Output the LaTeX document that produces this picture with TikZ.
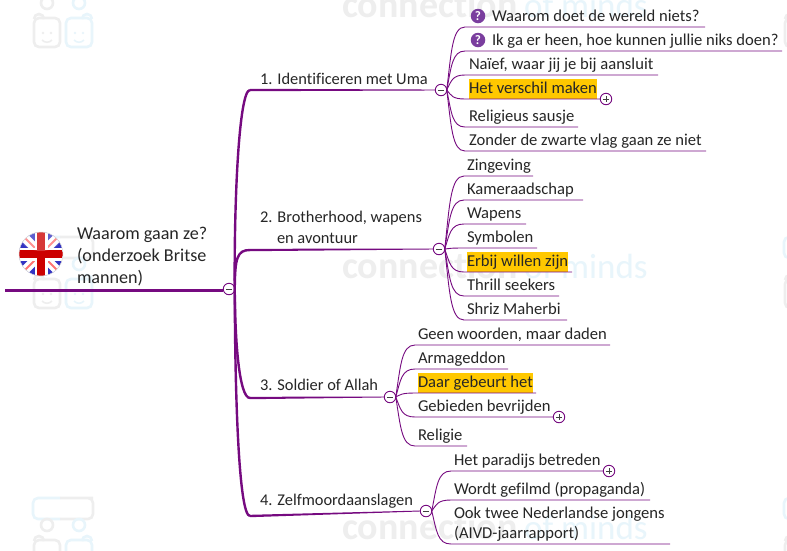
\documentclass[tikz,border=0pt]{standalone}
\usepackage{fontspec}
\setmainfont{Carlito}[RawFeature={-liga;-clig}]
\usetikzlibrary{calc}
\definecolor{branch}{HTML}{760A80}
\definecolor{wmgrey}{HTML}{EEEEEE}
\definecolor{wmblue}{HTML}{E8F5FB}
\definecolor{mark}{HTML}{FFC800}
\definecolor{ask}{HTML}{7A3E9E}
\tikzset{
  x=1pt,y=-1pt,
  every node/.style={font=\fontsize{16.6}{16}\selectfont,text=black!85},
  label/.style={anchor=base west,inner sep=0pt,outer sep=0pt},
  toplabel/.style={label,font=\fontsize{16.4}{16}\selectfont},
  rootlabel/.style={label,font=\fontsize{18.1}{18}\selectfont},
  hl/.style={fill=mark,text height=15pt,text depth=5pt},
  twig/.style={draw=branch,line width=.9pt},
  bough/.style={draw=branch,line width=2.4pt},
  toggle/.style={circle,draw=branch,fill=white,line width=.9pt,minimum size=11.5pt,inner sep=0pt,outer sep=0pt},
  ringg/.style={draw=wmgrey,line width=2.6pt},
  ringb/.style={draw=wmblue,line width=2.6pt},
  boxg/.style={ringg,rounded corners=5pt},
  boxb/.style={ringb,rounded corners=5pt},
  wmword/.style={anchor=base west,inner sep=0pt,font=\fontsize{38}{38}\selectfont\bfseries},
  askmark/.style={circle,fill=ask,minimum size=14.5pt,inner sep=0pt,text=white,font=\fontsize{13}{13}\selectfont\bfseries},
}
% collapse and expand buttons
\newcommand{\minusbtn}[2]{\node[toggle] (#1) at (#2) {};
  \draw[black!75,line width=1pt] ($(#1)+(-2.8,0)$) -- ($(#1)+(2.8,0)$);}
\newcommand{\plusbtn}[2]{\node[toggle] (#1) at (#2) {};
  \draw[black!75,line width=.9pt] ($(#1)+(-2.8,0)$) -- ($(#1)+(2.8,0)$) ($(#1)+(0,-2.8)$) -- ($(#1)+(0,2.8)$);}
% one leaf: [node style] name, parent button, curve end x, underline y, underline end x, text x, text
\newcommand{\leaf}[7][]{%
  \coordinate (#2s) at (#4,#5);
  \coordinate (#2e) at (#6,#5);
  \node[label,#1] (#2) at (#7,#5-5.5) {\leaftext};
  \draw[twig] let \p1=(#3.east),\p2=(#2s) in
    (\p1) .. controls ({\x1+.25*(\x2-\x1)},{\y1+.6*(\y2-\y1)}) and ({\x1+.3*(\x2-\x1)},\y2) .. (\p2) -- (#2e);}
\newcommand{\leaftext}{}
% main branch underline, thick at the trunk and thinning towards its button
\newcommand{\taper}[2]{%
  \fill[branch] ($(#1)+(0,-1.2)$) -- ($(#2.west)+(0,-.45)$) -- ($(#2.west)+(0,.45)$) -- ($(#1)+(0,1.2)$) -- cycle;}
% faint logo tile
\newcommand{\wlogo}[2]{%
  \begin{scope}[shift={(#1,#2)}]
    \draw[boxg] (60,-24) -- (88,-24) -- (93,-24) -- (93,-3) -- (60,-3);
    \draw[boxb] (60,-3) -- (33,-3) -- (33,-24) -- (60,-24);
    \draw[ringg] (47,3) circle (6);
    \draw[ringb] (79,3) circle (6);
    \draw[ringg] (34,19) arc (180:360:5);
    \draw[ringb] (82,19) arc (180:360:5);
    \draw[boxg] (34,18) rectangle (60,47);
    \draw[boxb] (66,18) rectangle (92,47);
    \fill[wmgrey] (43,33) circle (1.4) (51,33) circle (1.4);
    \fill[wmblue] (75,33) circle (1.4) (83,33) circle (1.4);
    \draw[wmgrey,line width=1.6pt] (42,40) .. controls (45,43) and (49,43) .. (52,40);
    \draw[wmblue,line width=1.6pt] (74,40) .. controls (77,43) and (81,43) .. (84,40);
  \end{scope}}
% faint wordmark
\newcommand{\wword}[2]{%
  \node[wmword,text=wmgrey] (wa#1) at (342,#2) {connection};
  \node[wmword,text=wmblue,font=\fontsize{35}{35}\selectfont] (wb#1) at (524,#2) {of minds};}
\begin{document}
\begin{tikzpicture}
\useasboundingbox (0,0) rectangle (787,550);
\fill[white] (0,0) rectangle (787,550);
\wlogo{0}{0}
\wlogo{0}{261}
\wlogo{0}{522}
\wlogo{751}{0}
\wlogo{751}{261}
\wlogo{751}{522}
\wword{top}{17}
\wword{mid}{278}
\wword{low}{539}

% flag
\begin{scope}
  \clip (41,254) circle (22);
  \fill[blue!70!black!80] (19,232) rectangle (63,276);
  \draw[white,line width=9pt] (19,232) -- (63,276) (63,232) -- (19,276);
  \draw[red!55!white,line width=2pt] (19,232) -- (63,276) (63,232) -- (19,276);
  \draw[white,line width=13pt] (41,232) -- (41,276) (19,254) -- (63,254);
  \draw[red!80!black,line width=8pt] (41,232) -- (41,276) (19,254) -- (63,254);
  \fill[white,opacity=.22] (41,238) ellipse (20 and 13);
\end{scope}
\draw[black!15,line width=.5pt] (41,254) circle (22);

% trunk
\node[rootlabel] (roota) at (77,239) {Waarom gaan ze?};
\node[rootlabel] (rootb) at (77,261) {(onderzoek Britse};
\node[rootlabel] (rootc) at (77,283) {mannen)};
\coordinate (roots) at (5,290);
\minusbtn{rb}{229,289}
\draw[bough,line width=3pt] (roots) -- (rb.west |- roots);

% main branches
\coordinate (b1s) at (250,90);
\coordinate (b2s) at (250,250);
\coordinate (b3s) at (250,398);
\coordinate (b4s) at (250,516);
\minusbtn{b1}{441,90}
\minusbtn{b2}{439,249}
\minusbtn{b3}{390,397}
\minusbtn{b4}{426,511}
\draw[bough] (rb.east) .. controls (234,200) and (239,90) .. (b1s);
\draw[bough] (rb.east) .. controls (235,258) and (237,250) .. (b2s);
\draw[bough] (rb.east) .. controls (235,340) and (239,398) .. (b3s);
\draw[bough] (rb.east) .. controls (235,400) and (239,516) .. (b4s);
\taper{b1s}{b1}
\taper{b2s}{b2}
\taper{b3s}{b3}
\taper{b4s}{b4}
\node[toplabel] (t1) at (260,84.5) {1. Identificeren met Uma};
\node[toplabel] (t2a) at (260,222.5) {2. Brotherhood, wapens};
\node[toplabel] (t2b) at (277,243) {en avontuur};
\node[toplabel] (t3) at (260,390.5) {3. Soldier of Allah};
\node[toplabel] (t4) at (260,505) {4. Zelfmoordaanslagen};

% first group
\renewcommand{\leaftext}{Waarom doet de wereld niets?}\leaf{a1}{b1}{465}{27}{705}{492}
\renewcommand{\leaftext}{Ik ga er heen, hoe kunnen jullie niks doen?}\leaf{a2}{b1}{465}{51}{782}{492}
\renewcommand{\leaftext}{Naïef, waar jij je bij aansluit}\leaf{a3}{b1}{465}{75}{658}{469}
\renewcommand{\leaftext}{Het verschil maken}\leaf[hl]{a4}{b1}{465}{99}{600}{469}
\renewcommand{\leaftext}{Religieus sausje}\leaf{a5}{b1}{465}{127}{578}{469}
\renewcommand{\leaftext}{Zonder de zwarte vlag gaan ze niet}\leaf{a6}{b1}{465}{151}{706}{469}
\node[askmark] (q1) at (478,16) {?};
\node[askmark] (q2) at (478,40) {?};
\plusbtn{a4p}{606,99}

% second group
\renewcommand{\leaftext}{Zingeving}\leaf{c1}{b2}{464}{176}{533}{467}
\renewcommand{\leaftext}{Kameraadschap}\leaf{c2}{b2}{464}{200}{583}{467}
\renewcommand{\leaftext}{Wapens}\leaf{c3}{b2}{464}{224}{526}{467}
\renewcommand{\leaftext}{Symbolen}\leaf{c4}{b2}{464}{248}{537}{467}
\renewcommand{\leaftext}{Erbij willen zijn}\leaf[hl]{c5}{b2}{464}{272}{572}{467}
\renewcommand{\leaftext}{Thrill seekers}\leaf{c6}{b2}{464}{296}{559}{467}
\renewcommand{\leaftext}{Shriz Maherbi}\leaf{c7}{b2}{464}{320}{567}{467}

% third group
\renewcommand{\leaftext}{Geen woorden, maar daden}\leaf{d1}{b3}{415}{345}{610}{418}
\renewcommand{\leaftext}{Armageddon}\leaf{d2}{b3}{415}{369}{508}{418}
\renewcommand{\leaftext}{Daar gebeurt het}\leaf[hl]{d3}{b3}{415}{393}{536}{418}
\renewcommand{\leaftext}{Gebieden bevrijden}\leaf{d4}{b3}{415}{417}{553}{418}
\renewcommand{\leaftext}{Religie}\leaf{d5}{b3}{415}{446}{467}{418}
\plusbtn{d4p}{559,417}

% fourth group
\renewcommand{\leaftext}{Het paradijs betreden}\leaf{f1}{b4}{451}{471}{603}{454}
\renewcommand{\leaftext}{Wordt gefilmd (propaganda)}\leaf{f2}{b4}{451}{500}{650}{454}
\renewcommand{\leaftext}{(AIVD-jaarrapport)}\leaf{f3}{b4}{451}{544}{670}{454}
\node[label] (f3a) at (454,518) {Ook twee Nederlandse jongens};
\plusbtn{f1p}{609,471}
\end{tikzpicture}
\end{document}
